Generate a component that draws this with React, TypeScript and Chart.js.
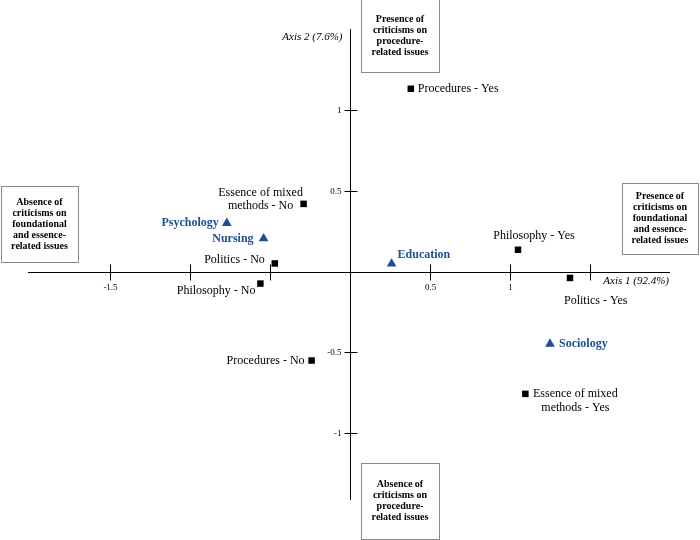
import React, { useEffect, useRef } from 'react';
import { Chart, registerables } from 'chart.js';

Chart.register(...registerables);

// ---- Data ----
const categoryNames = [
  'Procedures - Yes',
  'Essence of mixed\nmethods - No',
  'Politics - No',
  'Philosophy - No',
  'Philosophy - Yes',
  'Politics - Yes',
  'Essence of mixed\nmethods - Yes',
  'Procedures - No',
];
const categoryX = [0.38, -0.29, -0.47, -0.56, 1.05, 1.375, 1.096, -0.24];
const categoryY = [1.135, 0.42, 0.05, -0.075, 0.135, -0.04, -0.76, -0.553];

const disciplineNames = ['Psychology', 'Nursing', 'Education', 'Sociology'];
const disciplineX = [-0.77, -0.54, 0.26, 1.25];
const disciplineY = [0.3, 0.205, 0.048, -0.45];

const xTickValues = [-1.5, -1, -0.5, 0.5, 1, 1.5];
const xTickLabels = ['-1.5', '', '', '0.5', '1', ''];
const yTickValues = [-1, -0.5, 0.5, 1];
const yTickLabels = ['-1', '-0.5', '0.5', '1'];

const xAxisTitle = 'Axis 1 (92.4%)';
const yAxisTitle = 'Axis 2 (7.6%)';

const poleLeft = ['Absence of', 'criticisms on', 'foundational', 'and essence-', 'related issues'];
const poleRight = ['Presence of', 'criticisms on', 'foundational', 'and essence-', 'related issues'];
const poleTop = ['Presence of', 'criticisms on', 'procedure-', 'related issues'];
const poleBottom = ['Absence of', 'criticisms on', 'procedure-', 'related issues'];

// ---- Layout (label placement relative to marker, in px) ----
type Place = { align: CanvasTextAlign; dx: number; dy: number };
const categoryPlacement: Place[] = [
  { align: 'left', dx: 7, dy: 0 },
  { align: 'center', dx: -43, dy: -11.5 },
  { align: 'right', dx: -10, dy: -4 },
  { align: 'right', dx: -5, dy: 7 },
  { align: 'center', dx: 16, dy: -14 },
  { align: 'left', dx: -6, dy: 23 },
  { align: 'center', dx: 50, dy: 0 },
  { align: 'right', dx: -7, dy: 0 },
];
const disciplinePlacement: Place[] = [
  { align: 'right', dx: -8, dy: 0 },
  { align: 'right', dx: -10, dy: 0 },
  { align: 'left', dx: 6, dy: -9 },
  { align: 'left', dx: 9, dy: 0 },
];

const SERIF = "'Liberation Serif', 'Times New Roman', Times, serif";
const BLUE = '#1F4E92';

const overlayPlugin = {
  id: 'caOverlay',
  beforeDatasetsDraw(chart: any) {
    const ctx: CanvasRenderingContext2D = chart.ctx;
    const xs = chart.scales.x;
    const ys = chart.scales.y;
    const ox = Math.round(xs.getPixelForValue(0)) + 0.5;
    const oy = Math.round(ys.getPixelForValue(0)) + 0.5;
    ctx.save();
    ctx.strokeStyle = '#000';
    ctx.lineWidth = 1;
    // axes
    ctx.beginPath();
    ctx.moveTo(xs.left - 2, oy);
    ctx.lineTo(xs.right, oy);
    ctx.moveTo(ox, ys.top - 1);
    ctx.lineTo(ox, ys.getPixelForValue(-1.42));
    ctx.stroke();
    // x ticks
    ctx.fillStyle = '#000';
    ctx.font = `9px ${SERIF}`;
    ctx.textAlign = 'center';
    ctx.textBaseline = 'middle';
    xTickValues.forEach((v, i) => {
      const px = Math.round(xs.getPixelForValue(v)) + 0.5;
      ctx.beginPath();
      ctx.moveTo(px, oy - 8);
      ctx.lineTo(px, oy + 8);
      ctx.stroke();
      if (xTickLabels[i]) ctx.fillText(xTickLabels[i], px, oy + 15);
    });
    // y ticks
    ctx.textAlign = 'right';
    yTickValues.forEach((v, i) => {
      const py = Math.round(ys.getPixelForValue(v)) + 0.5;
      ctx.beginPath();
      ctx.moveTo(ox - 6, py);
      ctx.lineTo(ox + 7, py);
      ctx.stroke();
      if (yTickLabels[i]) ctx.fillText(yTickLabels[i], ox - 9, py);
    });
    // axis titles
    ctx.font = `italic 11px ${SERIF}`;
    ctx.textAlign = 'right';
    ctx.fillText(xAxisTitle, xs.right - 1, oy + 9);
    ctx.fillText(yAxisTitle, ox - 8, ys.top + 7);

    // pole boxes
    const box = (x1: number, y1: number, x2: number, y2: number, lines: string[]) => {
      ctx.strokeStyle = '#8a8a8a';
      ctx.lineWidth = 1;
      ctx.strokeRect(x1 + 0.5, y1 + 0.5, x2 - x1, y2 - y1);
      ctx.fillStyle = '#000';
      ctx.font = `bold 10px ${SERIF}`;
      ctx.textAlign = 'center';
      ctx.textBaseline = 'middle';
      const lh = 11;
      const cx = (x1 + x2) / 2;
      const cy = (y1 + y2) / 2;
      const start = cy - ((lines.length - 1) * lh) / 2;
      lines.forEach((t, i) => ctx.fillText(t, cx, start + i * lh));
    };
    box(1, 186, 78, 262, poleLeft);
    box(622, 183, 698, 254, poleRight);
    box(361, -1, 439, 72, poleTop);
    box(361, 463, 439, 539, poleBottom);
    ctx.restore();
  },
  afterDatasetsDraw(chart: any) {
    const ctx: CanvasRenderingContext2D = chart.ctx;
    ctx.save();
    ctx.textBaseline = 'middle';
    const drawLabels = (metaIdx: number, names: string[], places: Place[], font: string, color: string) => {
      const meta = chart.getDatasetMeta(metaIdx);
      ctx.font = font;
      ctx.fillStyle = color;
      meta.data.forEach((el: any, i: number) => {
        const p = places[i];
        ctx.textAlign = p.align;
        const lines = names[i].split('\n');
        lines.forEach((t, j) => ctx.fillText(t, el.x + p.dx, el.y + p.dy + j * 13.5));
      });
    };
    drawLabels(0, categoryNames, categoryPlacement, `12px ${SERIF}`, '#000');
    drawLabels(1, disciplineNames, disciplinePlacement, `bold 12px ${SERIF}`, BLUE);
    ctx.restore();
  },
};

export default function App() {
  const ref = useRef<HTMLCanvasElement | null>(null);
  useEffect(() => {
    if (!ref.current) return;
    const chart = new Chart(ref.current, {
      type: 'scatter',
      data: {
        datasets: [
          {
            label: 'Categories',
            data: categoryX.map((x, i) => ({ x, y: categoryY[i] })),
            pointStyle: 'rect',
            pointRadius: 4.6,
            backgroundColor: '#000',
            borderColor: '#000',
            borderWidth: 0,
          },
          {
            label: 'Disciplines',
            data: disciplineX.map((x, i) => ({ x, y: disciplineY[i] })),
            pointStyle: 'triangle',
            pointRadius: 5.6,
            backgroundColor: BLUE,
            borderColor: BLUE,
            borderWidth: 0,
          },
        ],
      },
      options: {
        responsive: false,
        animation: false,
        layout: { padding: { left: 30, right: 30, top: 30, bottom: 27 } },
        scales: {
          x: { type: 'linear', min: -2, max: 2, display: false },
          y: { type: 'linear', min: -1.5, max: 1.5, display: false },
        },
        plugins: { legend: { display: false }, tooltip: { enabled: false } },
      },
      plugins: [overlayPlugin],
    });
    return () => chart.destroy();
  }, []);
  return (
    <div style={{ position: 'absolute', left: 0, top: 0, width: 700, height: 540, background: '#fff' }}>
      <canvas ref={ref} width={700} height={540} />
    </div>
  );
}
